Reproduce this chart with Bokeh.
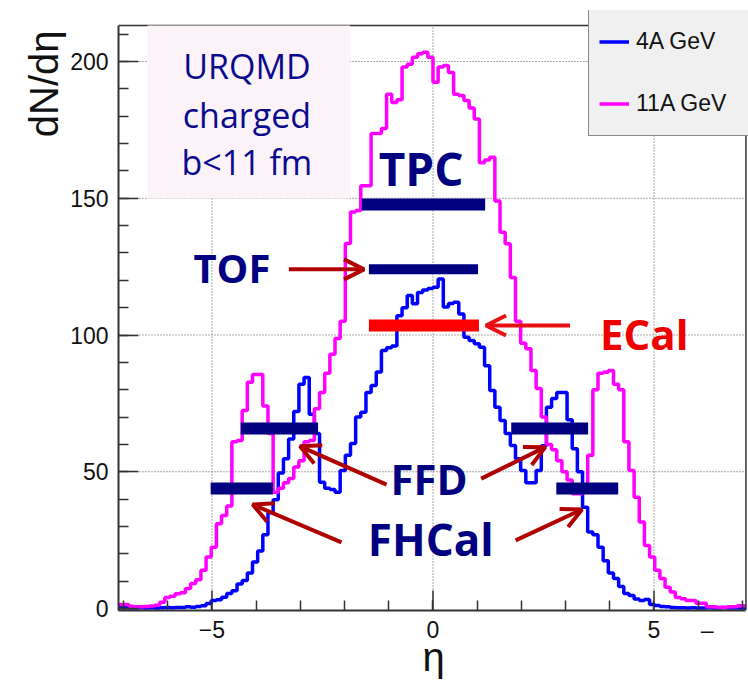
import numpy as np
from bokeh.plotting import figure
from bokeh.models import (Range1d, Legend, LegendItem, Arrow, OpenHead, Label, Span, Title,
                          ColumnDataSource, SingleIntervalTicker, FixedTicker, BoxAnnotation)
from bokeh.embed import file_html
from bokeh.resources import INLINE

# ---------------- data ----------------
eta_lo, eta_hi, nbins = -7.0, 7.0, 120

dndeta_11A = [1.5, 0.8, 0.6, 0.6, 0.7, 0.9, 1.2, 2.3, 4.0, 4.5,
              5.4, 5.8, 7.3, 9.1, 10.5, 14.0, 18.8, 22.4, 31.0, 34.0,
              37.5, 61.0, 61.4, 72.4, 82.7, 85.6, 85.6, 74.0, 64.0, 42.5,
              44.0, 46.0, 47.5, 51.7, 54.0, 61.0, 61.4, 73.0, 79.0, 86.0,
              93.0, 98.7, 105.0, 133.5, 145.0, 145.5, 154.6, 154.6, 173.7, 173.7,
              175.5, 188.0, 185.0, 186.0, 198.0, 199.0, 201.6, 202.8, 203.4, 201.6,
              192.4, 198.0, 198.5, 196.0, 188.0, 187.6, 185.7, 183.0, 179.0, 163.0,
              164.0, 165.0, 149.0, 137.6, 133.4, 121.0, 105.0, 97.0, 95.0, 87.0,
              80.4, 70.0, 60.0, 58.0, 54.0, 50.0, 47.0, 42.0, 42.0, 43.0,
              56.0, 80.0, 86.0, 86.4, 87.0, 82.0, 80.0, 61.0, 50.5, 40.7,
              31.6, 23.0, 18.8, 14.0, 11.0, 7.8, 6.0, 4.0, 3.6, 2.9,
              2.9, 1.9, 1.9, 0.6, 0.6, 0.5, 0.5, 0.6, 0.6, 1.0]

dndeta_4A = [0.3, 0.2, 0.2, 0.3, 0.2, 0.3, 0.2, 0.3, 0.4, 0.3,
             0.4, 0.4, 0.6, 0.5, 0.7, 1.0, 1.8, 2.9, 3.2, 4.1,
             5.5, 6.5, 9.0, 10.2, 13.0, 17.0, 21.0, 27.0, 35.0, 39.8,
             49.5, 54.8, 62.0, 72.0, 82.0, 84.5, 71.0, 64.0, 46.2, 44.0,
             43.5, 42.5, 50.5, 56.0, 60.3, 70.0, 71.8, 79.0, 81.5, 86.5,
             94.3, 95.3, 96.0, 107.0, 110.0, 114.4, 111.4, 115.5, 116.5, 117.0,
             117.5, 120.5, 110.2, 111.5, 112.0, 107.7, 99.2, 98.0, 96.8, 95.5,
             88.8, 79.7, 73.6, 68.7, 64.0, 59.6, 54.8, 50.5, 46.0, 46.0,
             50.5, 59.5, 73.6, 76.8, 79.0, 79.0, 69.0, 58.4, 50.0, 37.0,
             28.0, 27.0, 22.4, 17.5, 13.0, 11.0, 8.0, 5.5, 4.8, 3.5,
             2.9, 3.3, 1.5, 1.1, 0.7, 0.6, 0.4, 0.3, 0.3, 0.2,
             0.3, 0.2, 0.2, 0.3, 0.2, 0.2, 0.3, 0.2, 0.2, 0.2]

series_labels = ["4A GeV", "11A GeV"]
series_colors = ["#0000ff", "#ff00ff"]

det_names = ["TPC", "TOF", "ECal", "FFD", "FHCal", "FFD", "FHCal"]
det_eta_min = [-1.61, -1.45, -1.45, -4.35, -5.03, 1.77, 2.79]
det_eta_max = [1.18, 1.02, 1.04, -2.60, -3.62, 3.51, 4.19]
det_level = [147.7, 124.0, 103.5, 65.8, 43.9, 65.8, 43.9]
det_colors = ["#000080", "#000080", "#ff0000", "#000080", "#000080", "#000080", "#000080"]
det_thick = [12, 10, 12, 12, 12, 12, 12]

x_major = [-5, 0, 5]
x_minor = list(range(-7, 8))
y_major = [50, 100, 150, 200]

# ---------------- figure ----------------
X0, X1 = -7.115, 7.138          # full frame range
Y0, Y1 = -0.73, 218.65
XR, YT = 7.08, 213.2            # visible frame box (right, top)

edges = list(np.linspace(eta_lo, eta_hi, nbins + 1))
edges[0] = X0
edges[-1] = XR

p = figure(width=748, height=681, x_range=Range1d(X0, X1), y_range=Range1d(Y0, Y1),
           output_backend="svg", toolbar_location=None,
           min_border_left=118, min_border_right=0, min_border_top=10, min_border_bottom=71)
p.background_fill_color = "white"
p.border_fill_color = "white"
p.outline_line_color = None
p.xgrid.visible = False
p.ygrid.visible = False

FONT = "Liberation Sans"
AXC = "#333333"
for ax in (p.xaxis[0], p.yaxis[0]):
    ax.major_tick_in = 20
    ax.major_tick_out = 0
    ax.minor_tick_in = 10
    ax.minor_tick_out = 0
    ax.axis_line_width = 2
    ax.axis_line_color = AXC
    ax.major_tick_line_color = AXC
    ax.minor_tick_line_color = AXC
    ax.major_tick_line_width = 1.5
    ax.minor_tick_line_width = 1.5
    ax.major_label_text_font = FONT
    ax.major_label_text_font_size = "23px"
    ax.major_label_text_color = "#111111"
    ax.axis_label_text_font = FONT
    ax.axis_label_text_font_style = "normal"
    ax.axis_label_text_font_size = "40px"
    ax.axis_label_text_color = "#111111"
    ax.major_label_standoff = 10

p.xaxis.ticker = FixedTicker(ticks=x_major + [6.2], minor_ticks=x_minor)
p.xaxis.major_label_overrides = {6.2: "–"}
p.xaxis.major_tick_in = 0
p.xaxis.bounds = (X0, XR)
p.xaxis.major_label_standoff = 6
p.xaxis.axis_label = "η"
p.xaxis.axis_label_standoff = -11
p.yaxis.ticker = SingleIntervalTicker(interval=50, num_minor_ticks=5)
p.yaxis.bounds = (Y0, YT)

p.add_layout(Title(text="dN/dη", align="right", offset=20, standoff=4,
                   text_font=FONT, text_font_size="40px", text_font_style="normal",
                   text_color="#111111"), "left")

# dotted grid
GC = "#555555"
p.segment(x0=x_major, y0=[Y0] * 3, x1=x_major, y1=[YT] * 3,
          line_color=GC, line_dash="1 2", line_width=1)
p.segment(x0=[X0] * 4, y0=y_major, x1=[XR] * 4, y1=y_major,
          line_color=GC, line_dash="1 2", line_width=1)
# major x tick marks (20 px inward)
p.segment(x0=x_major, y0=[Y0] * 3, x1=x_major, y1=[Y0 + 20 / 2.735] * 3,
          line_color=AXC, line_width=1.5)

# frame top / right
p.add_layout(Span(location=YT, dimension="width", line_color=AXC, line_width=1.5))
p.add_layout(Span(location=XR, dimension="height", line_color=AXC, line_width=1.5))

# text box
p.add_layout(BoxAnnotation(left=-6.46, right=-1.88, bottom=149.9, top=YT,
                           fill_color="#fbf3f8", fill_alpha=1.0, line_alpha=0))

# histograms
renderers = []
for vals, col in zip([dndeta_4A, dndeta_11A], series_colors):
    src = ColumnDataSource(dict(x=edges, y=list(vals) + [vals[-1]]))
    r = p.step(x="x", y="y", source=src, mode="after", line_color=col, line_width=3.5)
    renderers.append(r)

# detector acceptance bars
bars = ColumnDataSource(dict(x0=det_eta_min, x1=det_eta_max, y=det_level,
                             c=det_colors, w=det_thick))
p.segment(x0="x0", y0="y", x1="x1", y1="y", source=bars, line_color="c",
          line_width="w", line_cap="butt")

# arrows
arrows = [
    (-3.26, 124.0, -1.56, 124.0, "#b00000"),   # TOF
    (3.10, 103.5, 1.20, 103.5, "#e81010"),     # ECal
    (-1.05, 45.3, -3.01, 59.3, "#b00000"),     # FFD left
    (-2.07, 24.2, -4.08, 38.0, "#b00000"),     # FHCal left
    (1.09, 47.5, 2.54, 59.0, "#b00000"),       # FFD right
    (1.87, 24.9, 3.37, 36.2, "#b00000"),       # FHCal right
]
for xs, ys, xe, ye, c in arrows:
    p.add_layout(Arrow(end=OpenHead(size=20, line_color=c, line_width=4),
                       x_start=xs, y_start=ys, x_end=xe, y_end=ye,
                       line_color=c, line_width=4))

# labels
TF = "Open Sans"
def lab(x, y, t, size, color, style="bold"):
    p.add_layout(Label(x=x, y=y, text=t, text_font=TF, text_font_size=size,
                       text_font_style=style, text_color=color,
                       text_align="center", text_baseline="middle"))

lab(-4.21, 198.5, "URQMD", "34px", "#0a0a8c", "normal")
lab(-4.21, 180.3, "charged", "34px", "#0a0a8c", "normal")
lab(-4.21, 163.1, "b<11 fm", "34px", "#0a0a8c", "normal")
lab(-0.27, 160.9, "TPC", "46px", "#000080")
lab(-4.55, 124.7, "TOF", "40px", "#000080")
lab(4.78, 100.5, "ECal", "42px", "#ee0000")
lab(-0.09, 47.5, "FFD", "42px", "#000080")
lab(-0.05, 25.3, "FHCal", "44px", "#000080")

# legend
white_src = ColumnDataSource(dict(x=[], y=[]))
wr1 = p.line(x="x", y="y", source=white_src, line_color="white", line_width=43, line_cap="butt")
wr2 = p.line(x="x", y="y", source=white_src, line_color="white", line_width=43, line_cap="butt")
legend = Legend(items=[LegendItem(label=series_labels[0], renderers=[wr1, renderers[0]]),
                       LegendItem(label=series_labels[1], renderers=[wr2, renderers[1]])],
                location=(470, 474), orientation="vertical",
                glyph_width=30, glyph_height=43, spacing=19, padding=10, margin=0,
                label_standoff=7, label_width=103,
                label_text_font=FONT, label_text_font_size="23px",
                label_text_color="#111111",
                background_fill_color="#f0f0f0", background_fill_alpha=1.0,
                border_line_color="#222222", border_line_width=1.5)
p.add_layout(legend)

open("out.html", "w").write(file_html(p, INLINE))
